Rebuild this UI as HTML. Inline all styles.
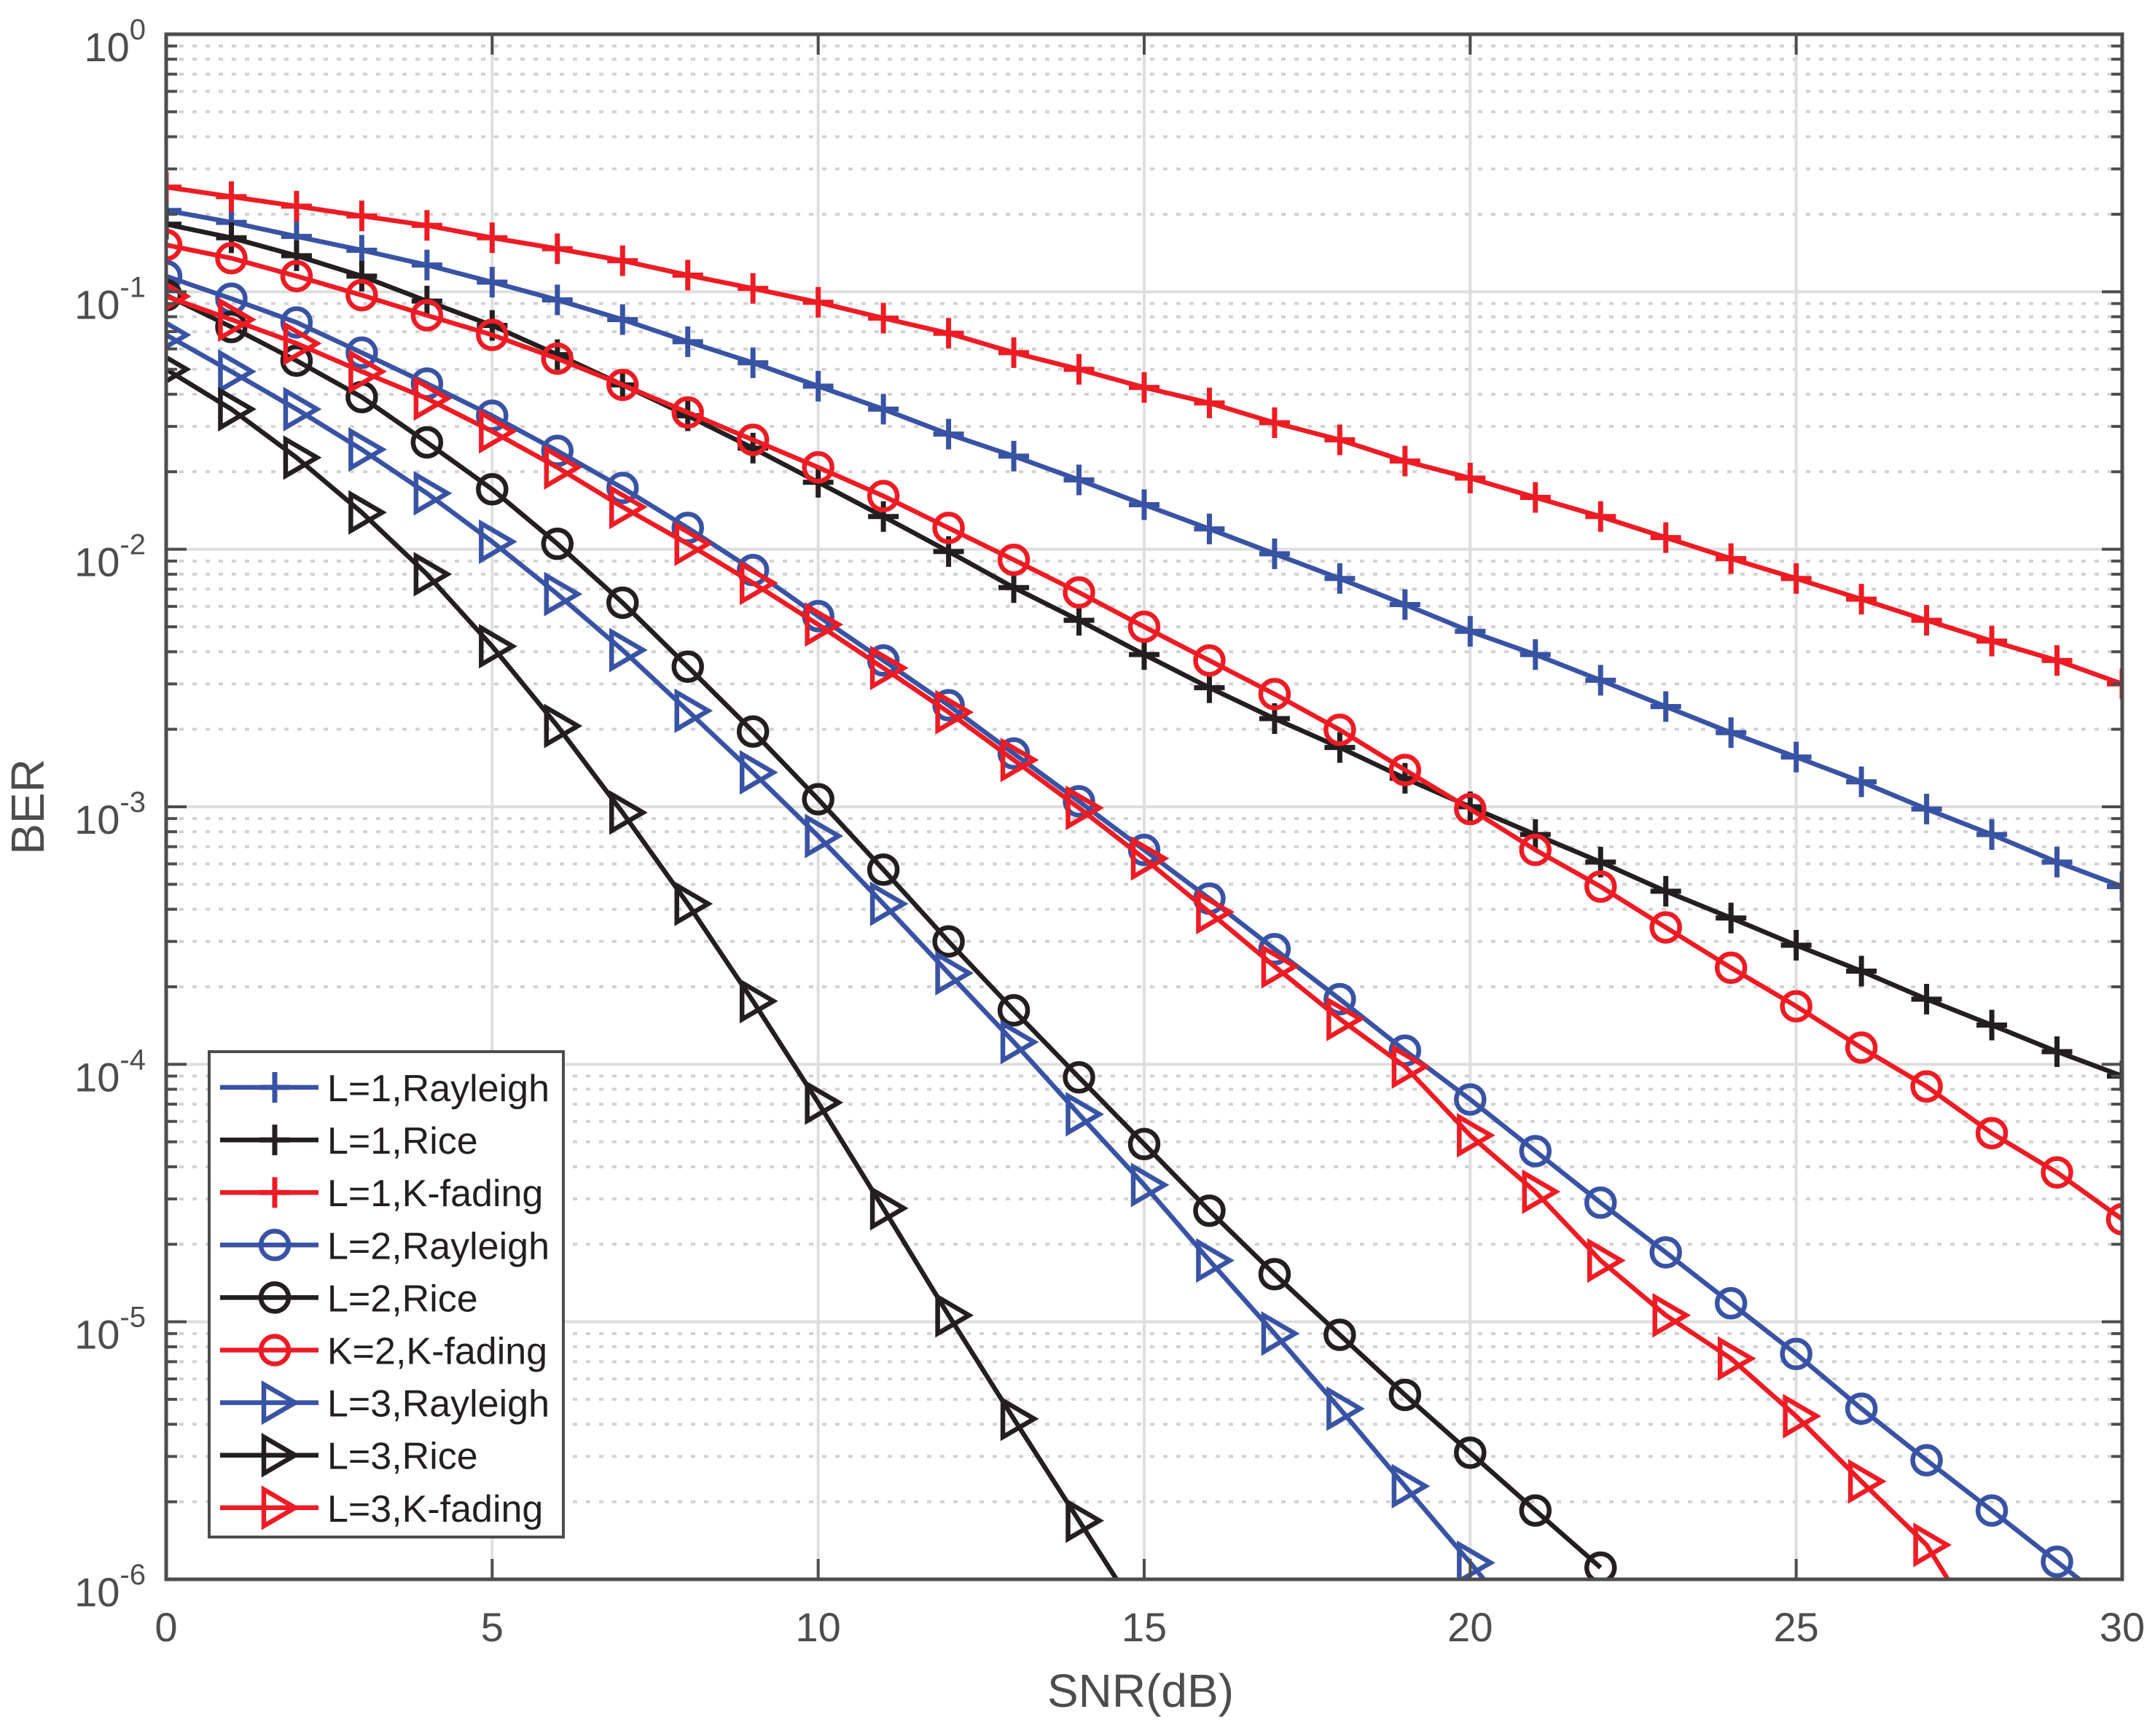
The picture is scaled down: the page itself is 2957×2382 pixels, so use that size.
<!DOCTYPE html>
<html><head><meta charset="utf-8"><style>
html,body{margin:0;padding:0;background:#fff;}
svg{display:block;font-family:"Liberation Sans",Arial,sans-serif;}
</style></head><body>
<svg id="chart" width="2957" height="2382" viewBox="0 0 2957 2382" xmlns="http://www.w3.org/2000/svg">
<defs><clipPath id="plotclip"><rect x="228" y="47" width="2684" height="2120"/></clipPath></defs>
<rect x="0" y="0" width="2957" height="2382" fill="#fff"/>
<g id="grid"></g>
<g id="series" clip-path="url(#plotclip)"></g>
<g id="axes"></g>
<g id="legend"></g>
<text x="1565" y="2342" font-size="64" fill="#4d4d4d" text-anchor="middle">SNR(dB)</text>
<text transform="translate(60,1107) rotate(-90)" font-size="64" fill="#4d4d4d" text-anchor="middle">BER</text>
</svg>
<script>
const snr = [0,1,2,3,4,5,6,7,8,9,10,11,12,13,14,15,16,17,18,19,20,21,22,23,24,25,26,27,28,29,30];
const xTicks = [0,5,10,15,20,25,30];
const yTickExps = [0,-1,-2,-3,-4,-5,-6];
const l1Rayleigh = [2.07e-1,1.86e-1,1.64e-1,1.45e-1,1.27e-1,1.09e-1,9.3e-2,7.8e-2,6.4e-2,5.3e-2,4.3e-2,3.5e-2,2.8e-2,2.3e-2,1.86e-2,1.49e-2,1.2e-2,9.6e-3,7.7e-3,6.1e-3,4.8e-3,3.9e-3,3.1e-3,2.45e-3,1.94e-3,1.56e-3,1.25e-3,9.8e-4,7.8e-4,6.1e-4,4.9e-4];
const l1Rice = [1.83e-1,1.62e-1,1.38e-1,1.15e-1,9.2e-2,7.4e-2,5.7e-2,4.35e-2,3.3e-2,2.47e-2,1.82e-2,1.34e-2,9.8e-3,7.1e-3,5.3e-3,3.9e-3,2.9e-3,2.2e-3,1.7e-3,1.29e-3,1.0e-3,7.8e-4,6.1e-4,4.7e-4,3.7e-4,2.9e-4,2.3e-4,1.79e-4,1.42e-4,1.12e-4,9.0e-5];
const l1Kfading = [2.55e-1,2.34e-1,2.15e-1,1.97e-1,1.81e-1,1.62e-1,1.47e-1,1.32e-1,1.16e-1,1.03e-1,9.1e-2,7.9e-2,6.9e-2,5.8e-2,5.0e-2,4.25e-2,3.7e-2,3.1e-2,2.66e-2,2.2e-2,1.89e-2,1.59e-2,1.34e-2,1.11e-2,9.2e-3,7.7e-3,6.4e-3,5.3e-3,4.4e-3,3.7e-3,3.0e-3];
const l2Rayleigh = [1.15e-1,9.4e-2,7.6e-2,5.8e-2,4.4e-2,3.3e-2,2.41e-2,1.73e-2,1.21e-2,8.3e-3,5.5e-3,3.7e-3,2.48e-3,1.61e-3,1.05e-3,6.8e-4,4.4e-4,2.8e-4,1.79e-4,1.13e-4,7.3e-5,4.6e-5,2.9e-5,1.86e-5,1.18e-5,7.5e-6,4.6e-6,2.9e-6,1.85e-6,1.17e-6,7.4e-7];
const l2Rice = [9.7e-2,7.3e-2,5.4e-2,3.9e-2,2.6e-2,1.71e-2,1.05e-2,6.2e-3,3.5e-3,1.96e-3,1.07e-3,5.7e-4,3.0e-4,1.62e-4,8.9e-5,4.9e-5,2.7e-5,1.53e-5,8.9e-6,5.2e-6,3.1e-6,1.85e-6,1.11e-6];
const k2Kfading = [1.52e-1,1.35e-1,1.15e-1,9.7e-2,8.1e-2,6.8e-2,5.5e-2,4.35e-2,3.4e-2,2.66e-2,2.08e-2,1.61e-2,1.21e-2,9.1e-3,6.8e-3,5.0e-3,3.7e-3,2.74e-3,1.99e-3,1.39e-3,9.8e-4,6.8e-4,4.9e-4,3.4e-4,2.37e-4,1.68e-4,1.16e-4,8.2e-5,5.4e-5,3.8e-5,2.5e-5];
const l3Rayleigh = [6.8e-2,4.9e-2,3.5e-2,2.44e-2,1.65e-2,1.07e-2,6.7e-3,4.06e-3,2.36e-3,1.36e-3,7.7e-4,4.2e-4,2.26e-4,1.22e-4,6.4e-5,3.4e-5,1.73e-5,9.0e-6,4.6e-6,2.3e-6,1.16e-6,5.7e-7];
const l3Rice = [5.0e-2,3.5e-2,2.27e-2,1.39e-2,8.0e-3,4.2e-3,2.06e-3,9.5e-4,4.2e-4,1.76e-4,7.1e-5,2.76e-5,1.06e-5,4.2e-6,1.69e-6,6.8e-7];
const l3Kfading = [9.6e-2,7.8e-2,6.3e-2,4.9e-2,3.85e-2,2.87e-2,2.08e-2,1.46e-2,1.05e-2,7.4e-3,5.1e-3,3.46e-3,2.33e-3,1.52e-3,9.9e-4,6.3e-4,3.9e-4,2.4e-4,1.5e-4,9.8e-5,5.3e-5,3.2e-5,1.73e-5,1.06e-5,7.2e-6,4.3e-6,2.4e-6,1.36e-6,5.3e-7];
const seriesNames = ["L=1,Rayleigh","L=1,Rice","L=1,K-fading","L=2,Rayleigh","L=2,Rice","K=2,K-fading","L=3,Rayleigh","L=3,Rice","L=3,K-fading"];

const NS="http://www.w3.org/2000/svg";
const L=228,R=2912,T=47,B=2167;
const X=v=>L+(v-0)/(30-0)*(R-L);
const Y=v=>T+(0-Math.log10(v))/6*(B-T);
const BLUE="#3953a4",BLACK="#231f20",RED="#ed1c24",AX="#4d4d4d";
function mk(tag,attrs,parent){const e=document.createElementNS(NS,tag);for(const k in attrs)e.setAttribute(k,attrs[k]);parent.appendChild(e);return e;}
const grid=document.getElementById('grid'),axes=document.getElementById('axes'),ser=document.getElementById('series'),leg=document.getElementById('legend');

for(let e=0;e>-6;e--){for(let m=2;m<=9;m++){const y=Y(m*Math.pow(10,e-1));
 const g=mk('line',{x1:L,x2:R,y1:y,y2:y,stroke:'#d2d2d2','stroke-width':4,'stroke-dasharray':'6 12'},grid);
 
 
 for(const [a,b] of [[L,L+15],[R-15,R]]){const t=mk('line',{x1:a,x2:b,y1:y,y2:y,stroke:AX,'stroke-width':4},axes);
 
 }
}}
yTickExps.forEach(e=>{const y=Y(Math.pow(10,e));
 const g=mk('line',{x1:L,x2:R,y1:y,y2:y,stroke:'#dedede','stroke-width':4},grid);
 
 
 for(const [a,b] of [[L,L+28],[R-28,R]]){const t=mk('line',{x1:a,x2:b,y1:y,y2:y,stroke:AX,'stroke-width':4},axes);
 
 }
 const tx=mk('text',{x:200,y:y+37,'font-size':56,fill:AX,'text-anchor':'end'},axes);
 
 
 tx.textContent='10';
 const sp=mk('tspan',{dy:-30,'font-size':40},tx);
 sp.textContent=String(e===0?'0':e);
});
xTicks.forEach(v=>{const x=X(v);
 const g=mk('line',{x1:x,x2:x,y1:T,y2:B,stroke:'#dedede','stroke-width':4},grid);
 
 
 for(const [a,b] of [[B-28,B],[T,T+28]]){const t=mk('line',{x1:x,x2:x,y1:a,y2:b,stroke:AX,'stroke-width':4},axes);
 
 }
 const tx=mk('text',{x:x,y:2252,'font-size':56,fill:AX,'text-anchor':'middle'},axes);
 
 
 tx.textContent=String(v);
});
const frame=mk('rect',{x:L,y:T,width:R-L,height:B-T,fill:'none',stroke:AX,'stroke-width':5},axes);



function marker(type,x,y,color,parent){
 let e;
 if(type==='plus'){e=mk('path',{d:`M${x-21},${y}H${x+21}M${x},${y-21}V${y+21}`,stroke:color,'stroke-width':7,fill:'none'},parent);}
 else if(type==='circle'){e=mk('circle',{cx:x,cy:y,r:19,stroke:color,'stroke-width':6.5,fill:'none'},parent);}
 else {e=mk('path',{d:`M${x-15},${y-25}L${x-15},${y+25}L${x+28},${y}Z`,stroke:color,'stroke-width':6.5,fill:'none','stroke-linejoin':'miter'},parent);}
 return e;
}
const defs=[
 [l1Rayleigh,BLUE,'plus'],[l1Rice,BLACK,'plus'],[l1Kfading,RED,'plus'],
 [l2Rayleigh,BLUE,'circle'],[l2Rice,BLACK,'circle'],[k2Kfading,RED,'circle'],
 [l3Rayleigh,BLUE,'tri'],[l3Rice,BLACK,'tri'],[l3Kfading,RED,'tri']];
defs.forEach(([data,color,m],i)=>{
 const g=mk('g',{},ser);
 
 
 const pts=data.map((v,j)=>X(snr[j])+','+Y(v)).join(' ');
 const pl=mk('polyline',{points:pts,fill:'none',stroke:color,'stroke-width':6.5,'stroke-linejoin':'round'},g);
 
 
 data.forEach((v,j)=>{const mm=marker(m,X(snr[j]),Y(v),color,g);
  
  });
});

const box=mk('rect',{x:287,y:1443,width:486,height:666,fill:'#fff',stroke:AX,'stroke-width':4},leg);


defs.forEach(([data,color,m],i)=>{
 const y=1492+i*72.1;
 const g=mk('g',{},leg);
 
 
 mk('line',{x1:302,x2:437,y1:y,y2:y,stroke:color,'stroke-width':6.5},g);
 marker(m,377,y,color,g);
 const t=mk('text',{x:449,y:y+19,'font-size':52,fill:'#231f20'},g);
 t.textContent=seriesNames[i];
});
</script>
</body></html>
